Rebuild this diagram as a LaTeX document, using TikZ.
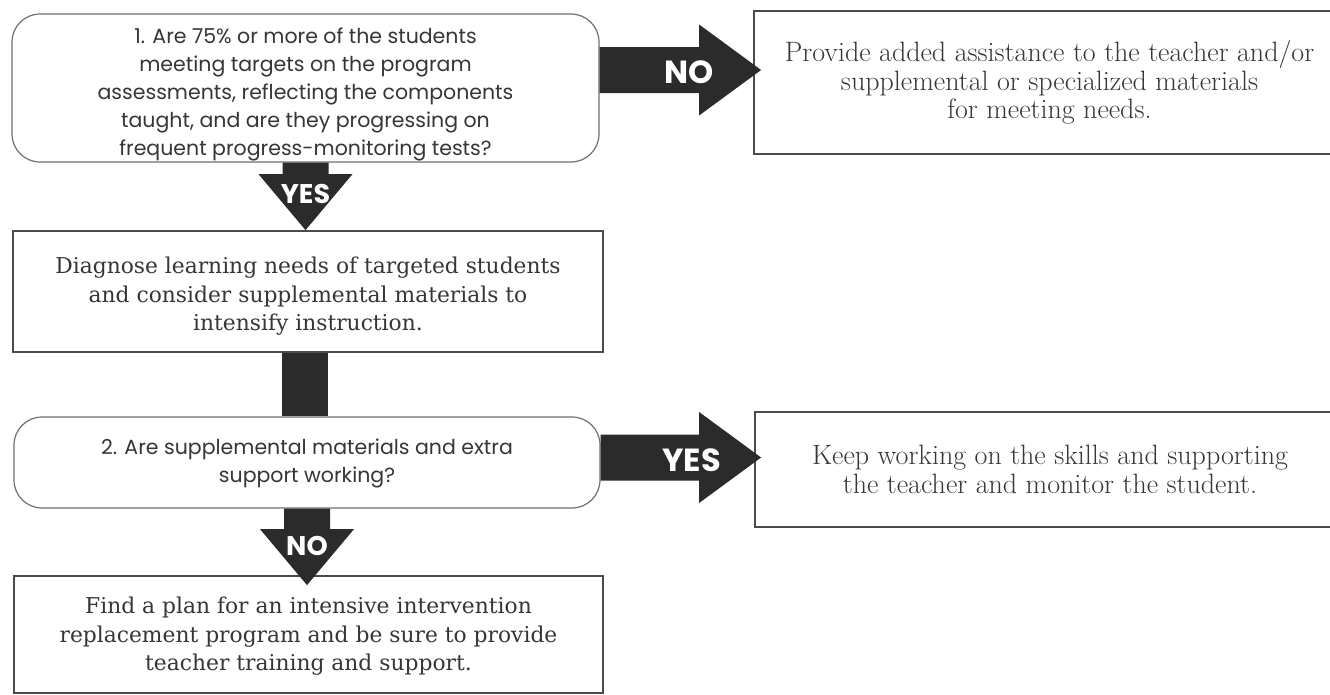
\documentclass[tikz,border=0pt]{standalone}
\usepackage{fontspec}
\usetikzlibrary{calc}
\newfontfamily\qfont{Poppins}
\newfontfamily\dfont{DejaVu Serif}
\definecolor{txt}{HTML}{363636}
\definecolor{arr}{HTML}{2B2B2B}
\definecolor{rline}{HTML}{707070}
\definecolor{bline}{HTML}{4A4A4A}
\tikzset{
  qbox/.style={draw=rline, line width=1.2pt, rounded corners=28pt, fill=white, inner sep=0pt},
  qtext/.style={text=txt, align=center, inner sep=0pt, font=\qfont\fontsize{20.5}{28}\selectfont},
  dbox/.style={draw=bline, line width=1.8pt, fill=white, inner sep=0pt},
  dtext/.style={text=txt, align=center, inner sep=0pt, font=\dfont\fontsize{21.8}{28.5}\selectfont},
  rbox/.style={draw=bline, line width=1.8pt, fill=white, text=txt, align=center, inner sep=0pt,
    font=\fontsize{28}{28.5}\selectfont},
  arrowfill/.style={fill=arr},
  hlbl/.style={text=white, font=\qfont\bfseries\fontsize{32}{32}\selectfont, inner sep=0pt},
  vlbl/.style={text=white, font=\qfont\bfseries\fontsize{27}{27}\selectfont, inner sep=0pt},
}
% down arrow: from node #1 to node #2, tip overshoot #3
\newcommand{\darr}[3]{%
  \fill[arrowfill]
    ($(#1.south)+(-23,0)$) --
    ($(#1.south |- #2.north)+(-23,{-56+#3})$) --
    ($(#1.south |- #2.north)+(-47,{-56+#3})$) --
    ($(#1.south |- #2.north)+(0,#3)$) --
    ($(#1.south |- #2.north)+(47,{-56+#3})$) --
    ($(#1.south |- #2.north)+(23,{-56+#3})$) --
    ($(#1.south)+(23,0)$) -- cycle;}
% right arrow: from node #1 (y offset #3) to node #2, tip overshoot #4
\newcommand{\rarr}[4]{%
  \coordinate (rs) at ($(#1.east)+(0,#3)$);
  \coordinate (rt) at ($(#2.west |- rs)+(#4,0)$);
  \fill[arrowfill]
    ($(rs)+(0,-23)$) -- ($(rt)+(-62,-23)$) -- ($(rt)+(-62,-45.5)$) -- (rt) --
    ($(rt)+(-62,45.5)$) -- ($(rt)+(-62,23)$) -- ($(rs)+(0,23)$) -- cycle;}
\begin{document}
\begin{tikzpicture}[x=1pt,y=-1pt]
\clip (0,0) rectangle (1330,694);
\fill[white] (0,0) rectangle (1330,694);

\node[qbox, minimum width=587pt, minimum height=148pt] (q1) at (305.5,88) {};
\node[qtext] (q1t) at ($(q1.center)+(0,6)$)
  {1. Are 75\% or more of the students\\meeting targets on the program\\assessments, reflecting the components\\taught, and are they progressing on\\frequent progress-monitoring tests?};
\node[rbox, minimum width=591pt, minimum height=143pt] (r1) at (1049.5,82.5)
  {Provide added assistance to the teacher and/or\\supplemental or specialized materials\\for meeting needs.};
\node[dbox, minimum width=590pt, minimum height=121pt] (d1) at (308,291.5) {};
\node[dtext] (d1t) at ($(d1.center)+(0,5)$)
  {Diagnose learning needs of targeted students\\and consider supplemental materials to\\intensify instruction.};
\node[qbox, minimum width=586pt, minimum height=91pt] (q2) at (307,462.5) {};
\node[qtext] (q2t) at ($(q2.center)+(0,1)$)
  {2. Are supplemental materials and extra\\support working?};
\node[rbox, minimum width=590pt, minimum height=115pt] (r2) at (1050,469.5)
  {Keep working on the skills and supporting\\the teacher and monitor the student.};
\node[dbox, minimum width=589pt, minimum height=117pt] (d2) at (308.5,634.5) {};
\node[dtext] (d2t) at ($(d2.center)+(0,2)$)
  {Find a plan for an intensive intervention\\replacement program and be sure to provide\\teacher training and support.};

% q1 -> r1 (NO)
\rarr{q1}{r1}{-18}{8}
\node[hlbl] (lno1) at ($(q1.east)+(89,-16)$) {NO};
% q1 -> d1 (YES)
\darr{q1}{d1}{0}
\node[vlbl] (lyes1) at ($(q1.south)+(0,31)$) {YES};
% d1 -> q2 (plain bar)
\fill[arrowfill] ($(d1.south)+(-26,0)$) rectangle ($(d1.south |- q2.north)+(20,0)$);
% q2 -> r2 (YES)
\rarr{q2}{r2}{-5}{7}
\node[hlbl] (lyes2) at ($(q2.east)+(91,-2)$) {YES};
% q2 -> d2 (NO)
\darr{q2}{d2}{10}
\node[vlbl] (lno2) at ($(q2.south)+(0,37)$) {NO};
\end{tikzpicture}
\end{document}
